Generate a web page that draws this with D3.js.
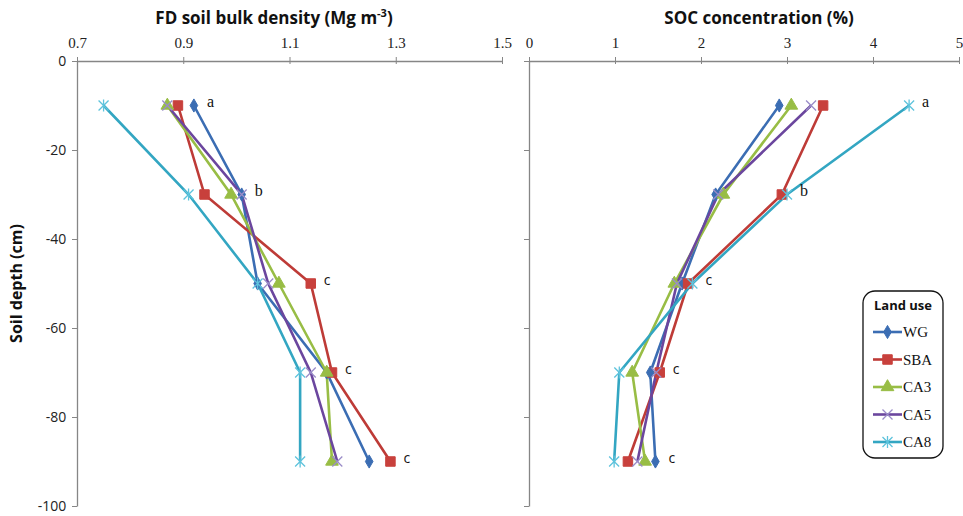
<!DOCTYPE html>
<html>
<head>
<meta charset="utf-8">
<script src="https://cdn.jsdelivr.net/npm/d3@7"></script>
<style>
  body { margin: 0; background: #fff; }
  svg { display: block; }
</style>
</head>
<body>
<script>
// depths (cm) and land uses
const depths = [-10, -30, -50, -70, -90];
const landUses = ["WG", "SBA", "CA3", "CA5", "CA8"];

// bulk density (Mg m-3), one row per land use
const bdWG  = [0.92, 1.01, 1.04, 1.17, 1.25];
const bdSBA = [0.89, 0.94, 1.14, 1.18, 1.29];
const bdCA3 = [0.87, 0.99, 1.08, 1.17, 1.18];
const bdCA5 = [0.87, 1.01, 1.06, 1.14, 1.19];
const bdCA8 = [0.75, 0.91, 1.04, 1.12, 1.12];

// SOC concentration (%)
const socWG  = [2.91, 2.17, 1.78, 1.41, 1.47];
const socSBA = [3.42, 2.94, 1.85, 1.52, 1.15];
const socCA3 = [3.05, 2.26, 1.69, 1.20, 1.35];
const socCA5 = [3.28, 2.20, 1.72, 1.48, 1.26];
const socCA8 = [4.42, 3.00, 1.90, 1.05, 0.99];

// significance letters per depth
const bdLetters  = ["a", "b", "c", "c", "c"];
const socLetters = ["a", "b", "c", "c", "c"];

const bdTicks = [0.7, 0.9, 1.1, 1.3, 1.5];
const socTicks = [0, 1, 2, 3, 4, 5];
const depthTicks = [0, -20, -40, -60, -80, -100];

const colors = {WG: "#3b6db3", SBA: "#be3b37", CA3: "#98bd45", CA5: "#6b469e", CA8: "#33a6c2"};
const markColors = {WG: "#3b6db3", SBA: "#c8403c", CA3: "#98bd45", CA5: "#9a8cc8", CA8: "#5ec3dc"};

const bdData = [bdWG, bdSBA, bdCA3, bdCA5, bdCA8];
const socData = [socWG, socSBA, socCA3, socCA5, socCA8];

const W = 963, H = 516;
const svg = d3.select("body").append("svg").attr("width", W).attr("height", H);
svg.append("rect").attr("width", W).attr("height", H).attr("fill", "#fff");

const y = d3.scaleLinear().domain([0, -100]).range([61, 506]);
const xL = d3.scaleLinear().domain([0.7, 1.5]).range([77, 502]);
const xR = d3.scaleLinear().domain([0, 5]).range([529, 959]);

// custom stroke symbols
const symX = {draw(ctx, size) {
  const r = Math.sqrt(size) / 2;
  ctx.moveTo(-r, -r); ctx.lineTo(r, r);
  ctx.moveTo(-r, r); ctx.lineTo(r, -r);
}};
const symStar = {draw(ctx, size) {
  const r = Math.sqrt(size) / 2;
  ctx.moveTo(-r, -r); ctx.lineTo(r, r);
  ctx.moveTo(-r, r); ctx.lineTo(r, -r);
  ctx.moveTo(0, -r * 1.2); ctx.lineTo(0, r * 1.2);
}};
const symbols = {
  WG: {type: d3.symbolDiamond, size: 50, fill: true},
  SBA: {type: d3.symbolSquare, size: 90, fill: true},
  CA3: {type: d3.symbolTriangle, size: 70, fill: true},
  CA5: {type: symX, size: 100, fill: false},
  CA8: {type: symStar, size: 100, fill: false}
};

const axisColor = "#868686";

function drawPanel(x, ticks, fmt, series, letters, showYLabels, title, titleX) {
  const g = svg.append("g");

  // top axis
  const ax = g.append("g").attr("transform", `translate(0,${y(0)})`)
    .call(d3.axisTop(x).tickValues(ticks).tickFormat(fmt).tickSize(4).tickSizeOuter(0));
  ax.select(".domain").attr("stroke", axisColor).attr("stroke-width", 1.3);
  ax.selectAll(".tick line").attr("stroke", axisColor).attr("y1", 3).attr("y2", -4);
  ax.selectAll(".tick text").attr("font-family", "Liberation Serif, serif")
    .attr("font-size", 15).attr("fill", "#222").attr("dy", "-0.4em");

  // left axis
  const ay = g.append("g").attr("transform", `translate(${x.range()[0]},0)`)
    .call(d3.axisLeft(y).tickValues(depthTicks).tickSize(5).tickSizeOuter(0)
      .tickFormat(showYLabels ? (d => String(d)) : ""));
  ay.select(".domain").attr("stroke", axisColor).attr("stroke-width", 1.3);
  ay.selectAll(".tick line").attr("stroke", axisColor);
  ay.selectAll(".tick text").attr("font-family", "Open Sans, sans-serif")
    .attr("font-size", 14).attr("fill", "#222").attr("dx", "-0.2em");

  // lines
  const line = d3.line().x(d => x(d[0])).y(d => y(d[1]));
  series.forEach((vals, i) => {
    const key = landUses[i];
    const pts = vals.map((v, j) => [v, depths[j]]);
    g.append("path").datum(pts).attr("d", line)
      .attr("fill", "none").attr("stroke", colors[key]).attr("stroke-width", 2.6);
  });
  // markers
  series.forEach((vals, i) => {
    const key = landUses[i];
    const s = symbols[key];
    const sym = d3.symbol().type(s.type).size(s.size);
    g.selectAll(null).data(vals.map((v, j) => [v, depths[j]])).enter()
      .append("path")
      .attr("transform", d => `translate(${x(d[0])},${y(d[1])})`)
      .attr("d", sym)
      .attr("fill", s.fill ? markColors[key] : "none")
      .attr("stroke", markColors[key])
      .attr("stroke-width", s.fill ? 1 : 1.3);
  });

  // letters to the right of the largest value at each depth
  letters.forEach((l, j) => {
    const mx = d3.max(series, s => s[j]);
    g.append("text")
      .attr("x", x(mx) + 13).attr("y", y(depths[j]) + 1)
      .attr("font-family", l === "c" ? "Open Sans, sans-serif" : "Liberation Serif, serif")
      .attr("font-size", l === "c" ? 14 : 16).attr("fill", "#111")
      .text(l);
  });

  // title
  const t = svg.append("text").attr("x", titleX).attr("y", 24)
    .attr("text-anchor", "middle").attr("font-family", "Open Sans, sans-serif")
    .attr("font-weight", "bold").attr("font-size", 17).attr("fill", "#111");
  title(t);
}

drawPanel(xL, bdTicks, d3.format(".1f"), bdData, bdLetters, true, t => {
  t.append("tspan").text("FD  soil bulk density (Mg m");
  t.append("tspan").attr("dy", -7).attr("font-size", 11).text("-3");
  t.append("tspan").attr("dy", 7).text(")");
}, 274);

drawPanel(xR, socTicks, d3.format("d"), socData, socLetters, false, t => {
  t.text("SOC concentration (%)");
}, 759);

// y axis title
svg.append("text")
  .attr("transform", `translate(22,${y(-50)}) rotate(-90)`)
  .attr("text-anchor", "middle").attr("font-family", "Open Sans, sans-serif")
  .attr("font-weight", "bold").attr("font-size", 16).attr("fill", "#111")
  .text("Soil depth (cm)");

// legend
const lg = svg.append("g").attr("transform", "translate(863,291)");
lg.append("rect").attr("width", 80).attr("height", 167).attr("rx", 12)
  .attr("fill", "#fff").attr("stroke", "#111").attr("stroke-width", 1.3);
lg.append("text").attr("x", 40).attr("y", 19).attr("text-anchor", "middle")
  .attr("font-family", "Open Sans, sans-serif").attr("font-weight", "bold")
  .attr("font-size", 13).attr("fill", "#111").text("Land use");
landUses.forEach((key, i) => {
  const yy = 41 + i * 27.5;
  const s = symbols[key];
  lg.append("line").attr("x1", 10).attr("x2", 39).attr("y1", yy).attr("y2", yy)
    .attr("stroke", colors[key]).attr("stroke-width", 2.6);
  lg.append("path").attr("transform", `translate(24.5,${yy})`)
    .attr("d", d3.symbol().type(s.type).size(s.size))
    .attr("fill", s.fill ? markColors[key] : "none")
    .attr("stroke", markColors[key]).attr("stroke-width", s.fill ? 1 : 1.3);
  lg.append("text").attr("x", 40).attr("y", yy + 5)
    .attr("font-family", "Liberation Serif, serif").attr("font-size", 15)
    .attr("fill", "#111").text(key);
});
</script>
</body>
</html>
